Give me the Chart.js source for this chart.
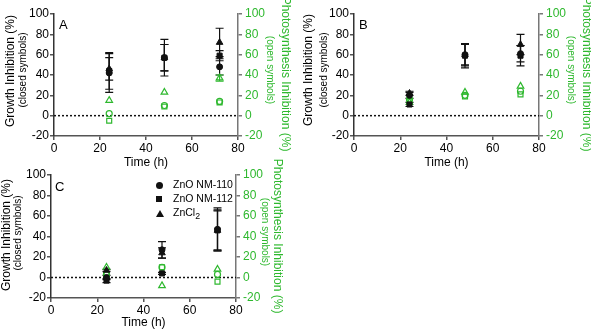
<!DOCTYPE html>
<html lang="en">
<head>
  <meta charset="UTF-8">
  <title>Zinc inhibition panels</title>
  <script src="https://cdn.jsdelivr.net/npm/chart.js"></script>
  <style>
    body { margin: 0; background: #fff; font-family: 'Liberation Sans', Arial, sans-serif; }
    #wrap { position: relative; width: 591px; height: 330px; overflow: hidden; }
    .panel { position: absolute; }
    .lbl { position: absolute; white-space: nowrap; transform: translate(-50%, -50%) rotate(-90deg); }
    .lbl.r { transform: translate(-50%, -50%) rotate(90deg); color: #2eb82e; }
    .main { font-size: 12px; }
    .sub { font-size: 10px; }
    .letter { position: absolute; font-size: 13px; }
    .leg { position: absolute; font-size: 10.5px; white-space: nowrap; }
    .mk { position: absolute; background: #111; }
  </style>
</head>
<body>
<div id="wrap">
  <canvas id="chartA" class="panel" width="292" height="170" style="left:0;top:0"></canvas>
  <canvas id="chartB" class="panel" width="291" height="170" style="left:300px;top:0"></canvas>
  <canvas id="chartC" class="panel" width="292" height="169" style="left:0;top:161px"></canvas>

  <div class="lbl main" style="left:10px;top:71px">Growth Inhibition (%)</div>
  <div class="lbl sub" style="left:21.5px;top:70px">(closed symbols)</div>
  <div class="lbl r main" style="left:286px;top:74px">Photosynthesis Inhibition (%)</div>
  <div class="lbl r sub" style="left:270px;top:70px">(open symbols)</div>

  <div class="lbl main" style="left:308px;top:70px">Growth Inhibition (%)</div>
  <div class="lbl sub" style="left:322.5px;top:70px">(closed symbols)</div>
  <div class="lbl r main" style="left:587px;top:74px">Photosynthesis Inhibition (%)</div>
  <div class="lbl r sub" style="left:571px;top:70px">(open symbols)</div>

  <div class="lbl main" style="left:6px;top:235px">Growth Inhibition (%)</div>
  <div class="lbl sub" style="left:16.5px;top:233px">(closed symbols)</div>
  <div class="lbl r main" style="left:278px;top:236px">Photosynthesis Inhibition (%)</div>
  <div class="lbl r sub" style="left:265px;top:232px">(open symbols)</div>

  <div class="letter" style="left:59px;top:17px">A</div>
  <div class="letter" style="left:359px;top:17px">B</div>
  <div class="letter" style="left:55px;top:179px">C</div>

  <div id="legend"></div>
</div>

<script>
// x values and axis ranges
const times = [24, 48, 72];
const xTicks = { min: 0, max: 80, step: 20 };
const yTicks = { min: -20, max: 100, step: 20 };
const seriesNames = ['ZnO NM-110', 'ZnO NM-112', 'ZnCl<sub>2</sub>'];

// panel A - growth (closed) and photosynthesis (open)
const aNm110 = [42, 57, 48], aNm110Err = [19, 13, 8];
const aNm112 = [44, 57, 59], aNm112Err = [18, 18, 5];
const aZnCl2 = [46, 57, 72], aZnCl2Err = [11, 13, 14];
const aNm110Ps = [2, 10, 14];
const aNm112Ps = [-5, 9, 13];
const aZnCl2Ps = [15, 23, 37], aZnCl2PsErr = [0, 0, 3];

// panel B
const bNm110 = [20, 60, 61], bNm110Err = [3, 10, 8];
const bNm112 = [11, 59, 59], bNm112Err = [2, 12, 10];
const bZnCl2 = [22, 60, 70], bZnCl2Err = [2, 11, 10];
const bNm110Ps = [16, 20, 24];
const bNm112Ps = [14, 19, 21];
const bZnCl2Ps = [13, 23, 29];

// panel C
const cNm110 = [0, 27, 47], cNm110Err = [2, 8, 21];
const cNm112 = [-3, 4, 46], cNm112Err = [2, 1, 19];
const cZnCl2 = [7, 24, 46], cZnCl2Err = [1, 5, 20];
const cNm110Ps = [3, 10, 3];
const cNm112Ps = [3, 10, -4];
const cZnCl2Ps = [10, -8, 8];

const GREEN = '#2eb82e';
const BLACK = '#111';
const shapes = ['circle', 'rect', 'triangle'];
const closedRadius = [3, 3.6, 3.8];
const openRadius = [3, 3.5, 3.8];

Chart.defaults.font.family = "'Liberation Sans', Arial, sans-serif";
Chart.defaults.font.size = 12;
Chart.defaults.color = '#000';

const toPoints = arr => arr.map((v, i) => ({ x: times[i], y: v }));

// vertical error bars with caps
const errorBars = {
  id: 'errorBars',
  beforeDatasetsDraw(chart) {
    const ctx = chart.ctx;
    chart.data.datasets.forEach((ds, i) => {
      if (!ds.errors) return;
      const xs = chart.scales.x, ys = chart.scales[ds.yAxisID];
      ctx.save();
      ctx.strokeStyle = ds.borderColor;
      ctx.lineWidth = 1.2;
      ds.data.forEach((p, j) => {
        const e = ds.errors[j];
        if (!e) return;
        const x = xs.getPixelForValue(p.x);
        const top = ys.getPixelForValue(p.y + e);
        const bot = ys.getPixelForValue(p.y - e);
        ctx.beginPath();
        ctx.moveTo(x, top); ctx.lineTo(x, bot);
        ctx.moveTo(x - 4, top); ctx.lineTo(x + 4, top);
        ctx.moveTo(x - 4, bot); ctx.lineTo(x + 4, bot);
        ctx.stroke();
      });
      ctx.restore();
    });
  }
};

// dotted line at zero
const zeroLine = {
  id: 'zeroLine',
  beforeDatasetsDraw(chart) {
    const { ctx, chartArea } = chart;
    const y = chart.scales.y.getPixelForValue(0);
    ctx.save();
    ctx.strokeStyle = '#111';
    ctx.lineWidth = 1.5;
    ctx.setLineDash([2, 2]);
    ctx.beginPath();
    ctx.moveTo(chartArea.left, y);
    ctx.lineTo(chartArea.right, y);
    ctx.stroke();
    ctx.restore();
  }
};

function makeChart(id, closed, closedErr, open, openErr, dims) {
  const datasets = [];
  closed.forEach((arr, k) => {
    datasets.push({
      label: seriesNames[k], data: toPoints(arr), errors: closedErr[k], yAxisID: 'y',
      pointStyle: shapes[k], radius: closedRadius[k], backgroundColor: BLACK, borderColor: BLACK,
      borderWidth: 1, showLine: false
    });
  });
  open.forEach((arr, k) => {
    datasets.push({
      label: seriesNames[k] + ' PS', data: toPoints(arr), errors: openErr[k], yAxisID: 'y2',
      pointStyle: shapes[k], radius: openRadius[k], backgroundColor: 'rgba(255,255,255,0)',
      borderColor: GREEN, borderWidth: 1.2, showLine: false
    });
  });
  const yCommon = {
    type: 'linear', min: yTicks.min, max: yTicks.max,
    grid: { drawOnChartArea: false, drawTicks: true, tickLength: 4, color: '#555', lineWidth: 1.5 }
  };
  return new Chart(document.getElementById(id), {
    type: 'scatter',
    data: { datasets },
    options: {
      responsive: false,
      animation: false,
      layout: { padding: { top: 14, left: 0, right: 0, bottom: 0 } },
      plugins: { legend: { display: false }, tooltip: { enabled: false } },
      scales: {
        x: {
          type: 'linear', min: xTicks.min, max: xTicks.max,
          ticks: { stepSize: xTicks.step, padding: 1, maxRotation: 0 },
          grid: { drawOnChartArea: false, drawTicks: true, tickLength: 4, color: '#555', lineWidth: 1.5 },
          border: { color: '#555', width: 1.5 },
          title: { display: true, text: 'Time (h)', padding: 0, font: { size: 12 } },
          afterFit: s => { s.height = dims.bottom; }
        },
        y: Object.assign({}, yCommon, {
          position: 'left',
          ticks: { stepSize: yTicks.step, padding: 1 },
          border: { color: '#333', width: 1.5 },
          afterFit: s => { s.width = dims.left; }
        }),
        y2: Object.assign({}, yCommon, {
          position: 'right',
          ticks: { stepSize: yTicks.step, padding: 3, color: GREEN },
          grid: { drawOnChartArea: false, drawTicks: true, tickLength: 4, color: '#777', lineWidth: 1.5 },
          border: { color: '#777', width: 1.5 },
          afterFit: s => { s.width = dims.right; }
        })
      }
    },
    plugins: [zeroLine, errorBars]
  });
}

makeChart('chartA',
  [aNm110, aNm112, aZnCl2], [aNm110Err, aNm112Err, aZnCl2Err],
  [aNm110Ps, aNm112Ps, aZnCl2Ps], [null, null, aZnCl2PsErr],
  { left: 54, right: 54, bottom: 34 });

makeChart('chartB',
  [bNm110, bNm112, bZnCl2], [bNm110Err, bNm112Err, bZnCl2Err],
  [bNm110Ps, bNm112Ps, bZnCl2Ps], [null, null, null],
  { left: 54, right: 52, bottom: 34 });

makeChart('chartC',
  [cNm110, cNm112, cZnCl2], [cNm110Err, cNm112Err, cZnCl2Err],
  [cNm110Ps, cNm112Ps, cZnCl2Ps], [null, null, null],
  { left: 51, right: 56, bottom: 32 });

// legend inside panel C
const legend = document.getElementById('legend');
const legRows = [185, 199, 213];
const markers = [
  'width:7px;height:7px;border-radius:50%;',
  'width:6px;height:6px;',
  'width:0;height:0;background:none;border-left:4px solid transparent;border-right:4px solid transparent;border-bottom:7px solid #111;'
];
seriesNames.forEach((name, k) => {
  const m = document.createElement('div');
  m.className = 'mk';
  m.style.cssText += markers[k] + 'left:' + (159 - 3.5) + 'px;top:' + (legRows[k] - 3.5) + 'px;';
  legend.appendChild(m);
  const t = document.createElement('div');
  t.className = 'leg';
  t.innerHTML = name;
  t.style.left = '173px';
  t.style.top = (legRows[k] - 7) + 'px';
  legend.appendChild(t);
});
</script>
</body>
</html>
